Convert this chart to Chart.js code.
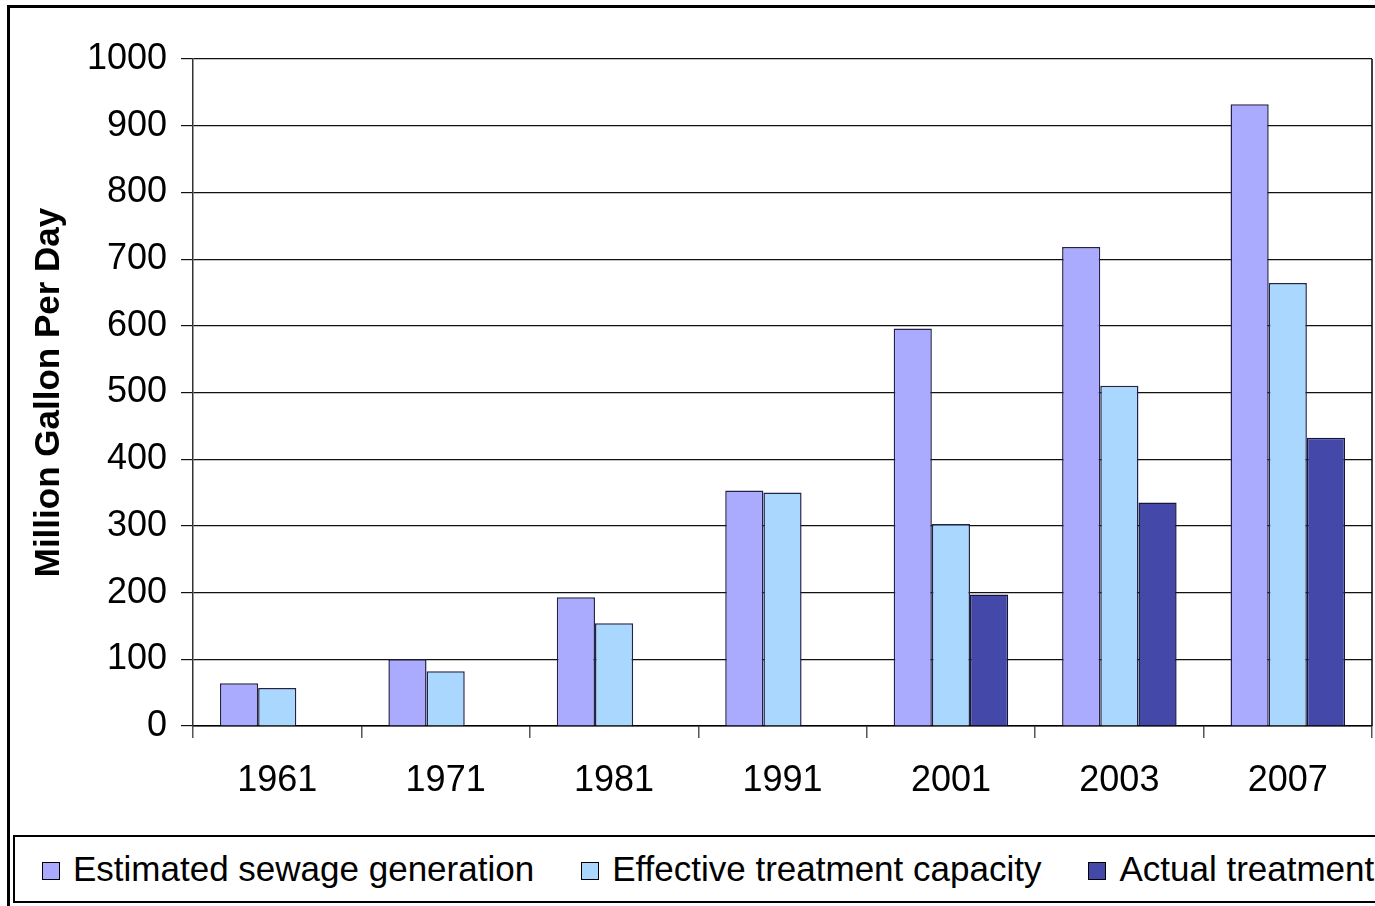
<!DOCTYPE html>
<html>
<head>
<meta charset="utf-8">
<title>Sewage generation and treatment</title>
<script src="https://cdn.jsdelivr.net/npm/chart.js@4/dist/chart.umd.min.js"></script>
<style>
    html, body { margin: 0; padding: 0; background: #fff; overflow: hidden; }
    #wrap { position: relative; width: 1375px; height: 906px; }
    #frame { position: absolute; left: 7px; top: 5px; width: 1420px; height: 960px; border: 3px solid #000; }
    #chartBox { position: absolute; left: 0; top: 0; width: 1375px; height: 906px; }
    #legend {
        position: absolute; left: 13px; top: 835px; width: 1420px; height: 64px;
        border: 2px solid #000; background: #fff;
        display: flex; align-items: center;
        font-family: "Liberation Sans", Arial, sans-serif; font-size: 35px; color: #000;
    }
    .lg-item { display: flex; align-items: center; margin-left: 47px; white-space: nowrap; }
    .lg-item:first-child { margin-left: 27px; }
    .lg-box { width: 16px; height: 16px; border: 1px solid #000; margin-right: 13px; margin-top: 3px; }
</style>
</head>
<body>
<div id="wrap">
    <div id="frame"></div>
    <div id="chartBox"><canvas id="sewageChart"></canvas></div>
    <div id="legend"></div>
</div>
<script>
(function () {
    'use strict';

    // values (million gallon per day)
    var years = ['1961', '1971', '1981', '1991', '2001', '2003', '2007'];
    var estimatedGeneration = [64, 100, 193, 353, 596, 718, 932];
    var effectiveCapacity = [57, 82, 154, 350, 303, 510, 664];
    var actualTreatment = [null, null, null, null, 197, 335, 432];
    var yTicks = [0, 100, 200, 300, 400, 500, 600, 700, 800, 900, 1000];

    var FONT = '"Liberation Sans", Arial, sans-serif';

    // right edge of the plot frame
    var plotBorder = {
        id: 'plotBorder',
        afterDraw: function (chart) {
            var a = chart.chartArea;
            var ctx = chart.ctx;
            ctx.save();
            ctx.strokeStyle = '#000';
            ctx.lineWidth = 1.5;
            ctx.beginPath();
            ctx.moveTo(a.right, a.top);
            ctx.lineTo(a.right, a.bottom);
            ctx.stroke();
            ctx.restore();
        }
    };

    // html legend built from the chart's own legend items
    var htmlLegend = {
        id: 'htmlLegend',
        afterUpdate: function (chart) {
            var el = document.getElementById('legend');
            var items = chart.options.plugins.legend.labels.generateLabels(chart);
            el.innerHTML = items.map(function (it) {
                return '<div class="lg-item"><span class="lg-box" style="background:' + it.fillStyle + '"></span>' +
                    '<span>' + it.text + '</span></div>';
            }).join('');
        }
    };

    new Chart(document.getElementById('sewageChart'), {
        type: 'bar',
        data: {
            labels: years,
            datasets: [
                {
                    label: 'Estimated sewage generation',
                    data: estimatedGeneration,
                    backgroundColor: '#aaaaff',
                    borderColor: '#23234a',
                    borderWidth: 1.5
                },
                {
                    label: 'Effective treatment capacity',
                    data: effectiveCapacity,
                    backgroundColor: '#a9d7fe',
                    borderColor: '#23234a',
                    borderWidth: 1.5
                },
                {
                    label: 'Actual treatment',
                    data: actualTreatment,
                    backgroundColor: '#4448a9',
                    borderColor: '#16163a',
                    borderWidth: 1.5
                }
            ]
        },
        options: {
            responsive: true,
            maintainAspectRatio: false,
            animation: false,
            layout: { padding: { left: 0, right: 3, top: 59, bottom: 80 } },
            datasets: { bar: { categoryPercentage: 0.68, barPercentage: 1.0 } },
            plugins: {
                legend: { display: false },
                tooltip: { enabled: false }
            },
            scales: {
                x: {
                    offset: true,
                    grid: { offset: true, drawOnChartArea: false, drawTicks: true, tickLength: 12, color: '#555', lineWidth: 1.5 },
                    border: { color: '#000', width: 1.5 },
                    ticks: { color: '#000', padding: 21, font: { family: FONT, size: 36 } },
                    afterFit: function (scale) { scale.height = 100; }
                },
                y: {
                    min: 0,
                    max: 1000,
                    afterBuildTicks: function (scale) {
                        scale.ticks = yTicks.map(function (v) { return { value: v }; });
                    },
                    grid: { color: '#111', lineWidth: 1.2, tickLength: 12 },
                    border: { color: '#333', width: 1.5 },
                    ticks: {
                        color: '#000',
                        padding: 14,
                        font: { family: FONT, size: 36 },
                        callback: function (v) { return String(v); }
                    },
                    title: {
                        display: true,
                        text: 'Million Gallon Per Day',
                        color: '#000',
                        padding: { top: 28, bottom: 0 },
                        font: { family: FONT, size: 35, weight: 'bold' }
                    },
                    afterFit: function (scale) { scale.width = 193; }
                }
            }
        },
        plugins: [plotBorder, htmlLegend]
    });
})();
</script>
</body>
</html>
